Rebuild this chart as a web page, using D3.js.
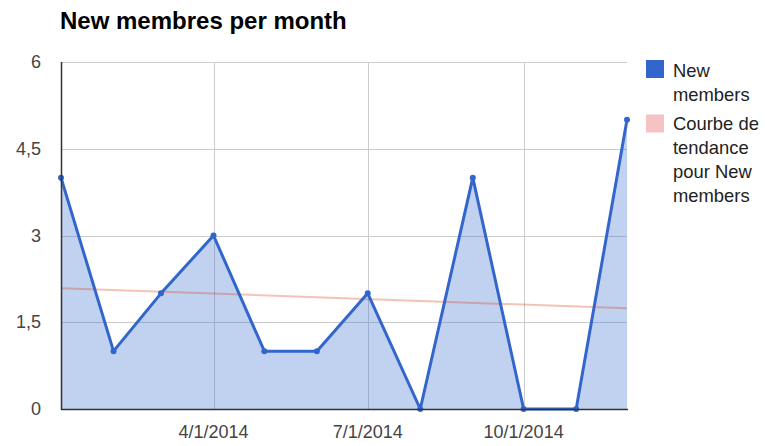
<!DOCTYPE html>
<html><head><meta charset="utf-8">
<script src="https://cdn.jsdelivr.net/npm/d3@7"></script>
<style>body{margin:0;background:#fff}svg{display:block;font-family:Arial,"Liberation Sans",sans-serif}</style>
</head><body><div id="chart"></div>
<script>
const months = ["2014-01-01","2014-02-01","2014-03-01","2014-04-01","2014-05-01","2014-06-01","2014-07-01","2014-08-01","2014-09-01","2014-10-01","2014-11-01","2014-12-01"];
const newMembers = [4,1,2,3,1,1,2,0,4,0,0,5];
const trendDates = ["2014-01-01","2014-12-01"];
const trendValues = [2.09,1.74];
const yTicks = [0,1.5,3,4.5,6];
const yTickLabels = ["0","1,5","3","4,5","6"];
const xTicks = ["2014-04-01","2014-07-01","2014-10-01"];
const xTickLabels = ["4/1/2014","7/1/2014","10/1/2014"];
const legendLabels = [["New","members"],["Courbe de","tendance","pour New","members"]];

const W=765,H=446, L=61,R=627,T=62,B=409;
const parse=d3.utcParse("%Y-%m-%d");
const svg=d3.select("#chart").append("svg").attr("width",W).attr("height",H);
const x=d3.scaleUtc().domain([parse(months[0]),parse(months[months.length-1])]).range([L,R]);
const y=d3.scaleLinear().domain([0,6]).range([B,T]);

svg.append("text").attr("x",60).attr("y",28.5).attr("font-size",24).attr("font-weight","bold").attr("fill","#000").text("New membres per month");

// grid
const g=svg.append("g");
g.selectAll(".hg").data(yTicks.filter(v=>v>0)).join("line").attr("x1",L).attr("x2",R).attr("y1",d=>Math.round(y(d))+0.5).attr("y2",d=>Math.round(y(d))+0.5).attr("stroke","#cccccc");
g.selectAll(".vg").data(xTicks).join("line").attr("x1",d=>Math.round(x(parse(d)))+0.5).attr("x2",d=>Math.round(x(parse(d)))+0.5).attr("y1",T).attr("y2",B).attr("stroke","#cccccc");

const data=months.map((m,i)=>({d:parse(m),v:newMembers[i]}));
svg.append("path").datum(data).attr("d",d3.area().x(d=>x(d.d)).y0(y(0)).y1(d=>y(d.v))).attr("fill","#3366cc").attr("fill-opacity",0.3);

// trend
svg.append("path").datum(trendDates.map((t,i)=>({d:parse(t),v:trendValues[i]}))).attr("d",d3.line().x(d=>x(d.d)).y(d=>y(d.v))).attr("stroke","#dc3912").attr("stroke-opacity",0.3).attr("stroke-width",2).attr("fill","none");

svg.append("path").datum(data).attr("d",d3.line().x(d=>x(d.d)).y(d=>y(d.v))).attr("stroke","#3366cc").attr("stroke-width",3).attr("fill","none").attr("stroke-linejoin","round");
svg.selectAll(".pt").data(data).join("circle").attr("cx",d=>x(d.d)).attr("cy",d=>y(d.v)).attr("r",3).attr("fill","#3366cc");

// axes lines
svg.append("line").attr("x1",L+0.5).attr("x2",L+0.5).attr("y1",T).attr("y2",B+1).attr("stroke","#333").attr("stroke-width",1.5);
svg.append("line").attr("x1",L).attr("x2",R+1).attr("y1",B+0.5).attr("y2",B+0.5).attr("stroke","#333").attr("stroke-width",1.5);

// labels
svg.selectAll(".yl").data(yTicks).join("text").attr("x",41).attr("y",d=>y(d)+6).attr("text-anchor","end").attr("font-size",18).attr("fill","#444").text((d,i)=>yTickLabels[i]);
svg.selectAll(".xl").data(xTicks).join("text").attr("x",d=>x(parse(d))).attr("y",438).attr("text-anchor","middle").attr("font-size",18).attr("fill","#444").text((d,i)=>xTickLabels[i]);

// legend
const lg=svg.append("g");
const colors=["#3366cc","#f5c3c3"];
const starts=[60,114.5];
const baselines=[76.5,129.5];
legendLabels.forEach((lines,i)=>{
  lg.append("rect").attr("x",646).attr("y",starts[i]).attr("width",18).attr("height",18).attr("fill",colors[i]);
  lines.forEach((t,j)=>{
    lg.append("text").attr("x",673).attr("y",baselines[i]+j*24.2).attr("font-size",18.4).attr("fill","#222").text(t);
  });
});
</script></body></html>
